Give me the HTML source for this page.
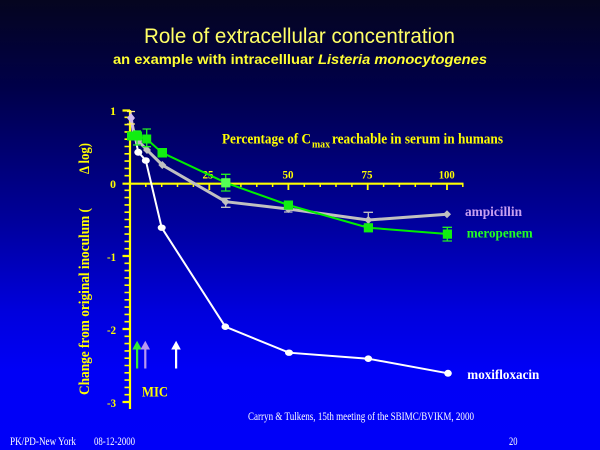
<!DOCTYPE html>
<html><head><meta charset="utf-8"><style>
html,body{margin:0;padding:0;width:600px;height:450px;overflow:hidden;}
body{background:linear-gradient(to bottom,#05051f 0px,#00004a 90px,#00009e 225px,#0000dc 310px,#0000f6 370px,#0000f8 450px);}
svg{display:block;}
.y{fill:#ffff00;font-family:"Liberation Serif",serif;font-weight:bold;}
</style></head><body>
<svg width="600" height="450" viewBox="0 0 600 450" xmlns="http://www.w3.org/2000/svg">
<!-- Titles -->
<text x="144" y="43" fill="#ffff66" font-family="Liberation Sans, sans-serif" font-size="21" textLength="311" lengthAdjust="spacingAndGlyphs">Role of extracellular concentration</text>
<text x="113" y="64" fill="#ffff33" font-family="Liberation Sans, sans-serif" font-size="13.5" font-weight="bold" textLength="374" lengthAdjust="spacingAndGlyphs">an example with intracellluar <tspan font-style="italic">Listeria monocytogenes</tspan></text>

<!-- Y axis -->
<line x1="130" y1="110" x2="130" y2="409" stroke="#ffff00" stroke-width="2.2"/>
<g stroke="#ffff00" stroke-width="1.6">
<path d="M124.5 117.3H130M124.5 124.6H130M124.5 131.9H130M124.5 139.2H130M124.5 146.5H130M124.5 153.8H130M124.5 161.1H130M124.5 168.4H130M124.5 175.7H130
M124.5 190.3H130M124.5 197.6H130M124.5 204.9H130M124.5 212.2H130M124.5 219.5H130M124.5 226.8H130M124.5 234.1H130M124.5 241.4H130M124.5 248.7H130
M124.5 263.3H130M124.5 270.6H130M124.5 277.9H130M124.5 285.2H130M124.5 292.5H130M124.5 299.8H130M124.5 307.1H130M124.5 314.4H130M124.5 321.7H130
M124.5 336.3H130M124.5 343.6H130M124.5 350.9H130M124.5 358.2H130M124.5 365.5H130M124.5 372.8H130M124.5 380.1H130M124.5 387.4H130M124.5 394.7H130"/>
</g>
<g stroke="#ffff00" stroke-width="2.2">
<path d="M122.5 110.5H130M122.5 183.7H130M122.5 256H130M122.5 329H130M122.5 402H130"/>
</g>
<g class="y" font-size="12" text-anchor="end">
<text x="116" y="115">1</text>
<text x="116" y="188">0</text>
<text x="116" y="261" textLength="9" lengthAdjust="spacingAndGlyphs">-1</text>
<text x="116" y="334" textLength="9" lengthAdjust="spacingAndGlyphs">-2</text>
<text x="116" y="407" textLength="9" lengthAdjust="spacingAndGlyphs">-3</text>
</g>
<!-- Y axis title -->
<g transform="translate(89,395) rotate(-90)">
<text class="y" x="0" y="0" font-size="15" textLength="187" lengthAdjust="spacingAndGlyphs">Change from original inoculum (</text>
<text class="y" x="221" y="0" font-size="15" textLength="31" lengthAdjust="spacingAndGlyphs">Δ log)</text>
</g>

<!-- X axis -->
<line x1="130" y1="183.7" x2="463.5" y2="183.7" stroke="#ffff00" stroke-width="2.2"/>
<g stroke="#ffff00" stroke-width="1.5">
<path d="M145.8 184V187M161.7 184V187M177.5 184V187M193.4 184V187
M225.1 184V187M240.9 184V187M256.8 184V187M272.6 184V187
M304.3 184V187M320.2 184V187M336 184V187M351.9 184V187
M383.6 184V187M399.4 184V187M415.3 184V187M431.1 184V187M462.8 184V187"/>
</g>
<g stroke="#ffff00" stroke-width="1.8">
<path d="M209.3 184V190M288.4 184V190M367.7 184V190M447 184V190"/>
</g>
<g class="y" font-size="12" text-anchor="middle">
<text x="208" y="178.5" textLength="11" lengthAdjust="spacingAndGlyphs">25</text>
<text x="288" y="178.5" textLength="11" lengthAdjust="spacingAndGlyphs">50</text>
<text x="367" y="178.5" textLength="11" lengthAdjust="spacingAndGlyphs">75</text>
<text x="446.7" y="178.5" textLength="16" lengthAdjust="spacingAndGlyphs">100</text>
</g>
<text class="y" x="222" y="143.3" font-size="14.5" textLength="89" lengthAdjust="spacingAndGlyphs">Percentage of C</text>
<text class="y" x="312" y="147.5" font-size="10" textLength="18" lengthAdjust="spacingAndGlyphs">max</text>
<text class="y" x="332" y="143.3" font-size="14.5" textLength="171" lengthAdjust="spacingAndGlyphs">reachable in serum in humans</text>

<!-- Moxifloxacin -->
<polyline points="132,122 134,133 138.3,152 145.8,160.5 161.7,227.7 225.3,326.7 289,352.7 368.3,358.7 448,373.3" fill="none" stroke="#ffffff" stroke-width="2"/>
<g fill="#ffffff">
<ellipse cx="138.3" cy="152.3" rx="4" ry="3.5"/>
<ellipse cx="145.8" cy="160.5" rx="4" ry="3.3"/>
<ellipse cx="161.7" cy="227.7" rx="4" ry="3.2"/>
<ellipse cx="225.3" cy="326.7" rx="3.8" ry="3.3"/>
<ellipse cx="289" cy="352.7" rx="4" ry="3.2"/>
<ellipse cx="368.3" cy="358.7" rx="3.8" ry="3.3"/>
<ellipse cx="448" cy="373.3" rx="3.8" ry="3.5"/>
</g>

<!-- Ampicillin -->
<polyline points="131,118 134,133 138.3,141 147,150 162.3,165 225.7,201.7 288.3,209 368.3,220 447,214.3" fill="none" stroke="#c0c0c0" stroke-width="3"/>
<line x1="131" y1="118" x2="133" y2="131" stroke="#d0b8f0" stroke-width="2.5"/>
<g stroke="#c0c0c0" stroke-width="1.3" fill="none">
<path d="M225.7 198.3V207.3M221 198.3H230.5M221 207.3H230.5"/>
<path d="M368.3 212.3V225.5M363.5 212.3H373M363.5 225.5H373"/>
<path d="M288.3 206V212M284 206H292.5M284 212H292.5"/>
</g>
<path d="M127 111.5H135M131 111.5V124M127 124H135" stroke="#ffe880" stroke-width="1.3" fill="none"/>
<path d="M131,113 L135,118 L131,123 L127,118Z" fill="#d0b8f0"/>
<g fill="#c0c0c0">
<path d="M134,129 L138,133 L134,137 L130,133Z"/>
<path d="M138.3,137 L142.3,141 L138.3,145 L134.3,141Z"/>
<path d="M147,146 L151,150 L147,154 L143,150Z"/>
<path d="M162.3,161 L166.3,165 L162.3,169 L158.3,165Z"/>
<path d="M225.7,197.7 L229.7,201.7 L225.7,205.7 L221.7,201.7Z"/>
<path d="M288.3,205 L292.3,209 L288.3,213 L284.3,209Z"/>
<path d="M368.3,216 L372.3,220 L368.3,224 L364.3,220Z"/>
<path d="M447,210.3 L451,214.3 L447,218.3 L443,214.3Z"/>
</g>

<!-- Meropenem -->
<polyline points="131,136 137,136 146.7,139 162,152.7 225.7,182.7 288.3,205 368.3,227.7 447.3,234" fill="none" stroke="#00ee00" stroke-width="2"/>
<g stroke="#22ee22" stroke-width="1.3" fill="none">
<path d="M225.7 174.3V191M221 174.3H230.5M221 191H230.5"/>
<path d="M447.3 227.3V241M442.5 227.3H452M442.5 241H452"/>
<path d="M146.7 129V146.7M142.5 129H151M142.5 146.7H151"/>
<path d="M137 131V145M133 131H141M133 145H141"/>
</g>
<g fill="#11ee11">
<rect x="127" y="131.5" width="8.5" height="9"/>
<rect x="133" y="131.5" width="9" height="9"/>
<rect x="142.2" y="134.5" width="9" height="9"/>
<rect x="157.5" y="148" width="9.5" height="9.5"/>
<rect x="221.2" y="178.2" width="9.2" height="9.2" fill="#55ff55"/>
<rect x="283.8" y="200.5" width="9.2" height="9.2"/>
<rect x="363.8" y="223.2" width="9.2" height="9.2"/>
<rect x="442.8" y="229.5" width="9.2" height="9.2"/>
</g>

<!-- Series labels -->
<text x="465" y="216" fill="#c8a0f0" font-family="Liberation Serif, serif" font-weight="bold" font-size="14" textLength="57" lengthAdjust="spacingAndGlyphs">ampicillin</text>
<text x="466.7" y="237.3" fill="#22ff22" font-family="Liberation Serif, serif" font-weight="bold" font-size="14" textLength="66" lengthAdjust="spacingAndGlyphs">meropenem</text>
<text x="467.3" y="379" fill="#ffffff" font-family="Liberation Serif, serif" font-weight="bold" font-size="14" textLength="72" lengthAdjust="spacingAndGlyphs">moxifloxacin</text>

<!-- MIC arrows -->
<g>
<rect x="136" y="349" width="2.2" height="19.5" fill="#33ee33"/>
<path d="M132.3,349.5 L137.1,340.7 L141.8,349.5Z" fill="#33ee33"/>
<rect x="144.2" y="349" width="2.2" height="19.5" fill="#b898f0"/>
<path d="M140.5,349.5 L145.3,340.7 L150,349.5Z" fill="#b898f0"/>
<rect x="175" y="349" width="2.2" height="19.5" fill="#ffffff"/>
<path d="M171.2,349.5 L176.1,340.7 L180.8,349.5Z" fill="#ffffff"/>
</g>
<text class="y" x="142" y="396.7" font-size="15" font-weight="normal" textLength="26" lengthAdjust="spacingAndGlyphs">MIC</text>

<!-- Footer -->
<text x="248" y="420" fill="#ffffff" font-family="Liberation Serif, serif" font-size="12" textLength="226" lengthAdjust="spacingAndGlyphs">Carryn &amp; Tulkens, 15th meeting of the SBIMC/BVIKM, 2000</text>
<text x="10" y="445" fill="#ffffff" font-family="Liberation Serif, serif" font-size="12" textLength="66" lengthAdjust="spacingAndGlyphs">PK/PD-New York</text>
<text x="94" y="445" fill="#ffffff" font-family="Liberation Serif, serif" font-size="12" textLength="41" lengthAdjust="spacingAndGlyphs">08-12-2000</text>
<text x="509" y="445" fill="#ffffff" font-family="Liberation Serif, serif" font-size="12" textLength="8.5" lengthAdjust="spacingAndGlyphs">20</text>
</svg>
</body></html>
